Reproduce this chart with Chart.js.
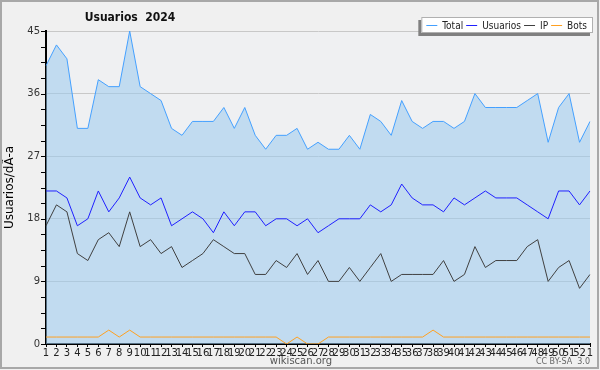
<!DOCTYPE html>
<html>
<head>
<meta charset="utf-8">
<script src="https://cdn.jsdelivr.net/npm/chart.js@4.4.1/dist/chart.umd.min.js"></script>
<style>
  body { margin: 0; background: #ffffff; }
  canvas { display: block; }
</style>
</head>
<body>
<canvas id="myChart" width="600" height="370"></canvas>
<script>
// weeks of 2024, last point is week 1 of next year
const weeks = ['1','2','3','4','5','6','7','8','9','10','11','12','13','14','15','16','17','18','19','20',
  '21','22','23','24','25','26','27','28','29','30','31','32','33','34','35','36','37','38','39','40',
  '41','42','43','44','45','46','47','48','49','50','51','52','1']

const total = [40,43,41,31,31,38,37,37,45,37, 36,35,31,30,32,32,32,34,31,34,
  30,28,30,30,31,28,29,28,28,30, 28,33,32,30,35,32,31,32,32,31,
  32,36,34,34,34,34,35,36,29,34, 36,29,32]
const usuarios = [22,22,21,17,18,22,19,21,24,21, 20,21,17,18,19,18,16,19,17,19,
  19,17,18,18,17,18,16,17,18,18, 18,20,19,20,23,21,20,20,19,21,
  20,21,22,21,21,21,20,19,18,22, 22,20,22]
const ip = [17,20,19,13,12,15,16,14,19,14, 15,13,14,11,12,13,15,14,13,13,
  10,10,12,11,13,10,12,9,9,11, 9,11,13,9,10,10,10,10,12,9,
  10,14,11,12,12,12,14,15,9,11, 12,8,10]
const bots = [1,1,1,1,1,1,2,1,2,1, 1,1,1,1,1,1,1,1,1,1,
  1,1,1,0,1,0,0,1,1,1, 1,1,1,1,1,1,1,2,1,1,
  1,1,1,1,1,1,1,1,1,1, 1,1,1]

// labelled y ticks, the others are only small marks
const yTickLabels = [0, 9, 18, 27, 36, 45]

const chartTitle = 'Usuarios  2024'
const yTitle = 'Usuarios/dÃ-a'
const seriesNames = ['Total', 'Usuarios', 'IP', 'Bots']
const seriesColors = ['#44a0ff', '#2020ff', '#404040', '#ffa020']

const FONT = "'DejaVu Sans', sans-serif"
const FONT_C = "'DejaVu Sans Condensed', 'DejaVu Sans', sans-serif"

// background, frame, title, legend box, tick marks and footer
const decor = {
  id: 'decor',
  beforeDraw(chart) {
    const c = chart.ctx
    const a = chart.chartArea
    c.save()
    c.fillStyle = '#f0f0f0'
    c.fillRect(0, 0, chart.width, chart.height)
    c.fillStyle = '#eff0f2'
    c.fillRect(a.left, a.top, a.right - a.left, a.bottom - a.top)
    c.restore()
  },
  afterDraw(chart) {
    const c = chart.ctx
    c.save()
    // y tick marks, every 2.25
    const ys = chart.scales.y
    c.strokeStyle = '#000'
    c.lineWidth = 1
    c.beginPath()
    ys.ticks.forEach(t => {
      const py = Math.round(ys.getPixelForValue(t.value)) + 0.5
      c.moveTo(ys.right - 5, py)
      c.lineTo(ys.right, py)
    })
    c.stroke()

    // frame
    c.strokeStyle = '#a8a8a8'
    c.lineWidth = 2
    c.strokeRect(1, 1, 597, 367)

    // title
    c.fillStyle = '#111'
    c.font = 'bold 12px ' + FONT_C
    c.textAlign = 'center'
    c.textBaseline = 'alphabetic'
    c.fillText(chartTitle, 130, 21)

    // legend
    c.font = '10px ' + FONT_C
    const lineLen = 11, gap1 = 5, gap2 = 3
    let w = 6
    seriesNames.forEach(n => { w += lineLen + gap1 + c.measureText(n).width + gap2 })
    w += 2
    const right = 593, top = 17, h = 16
    const left = right - w
    c.fillStyle = '#808080'
    c.fillRect(left - 3, top + 3, w, h)
    c.fillStyle = '#ffffff'
    c.fillRect(left, top, w, h)
    c.strokeStyle = '#b0b0b0'
    c.lineWidth = 1
    c.strokeRect(left + 0.5, top + 0.5, w - 1, h - 1)
    let x = left + 5
    const cy = top + h / 2
    c.textAlign = 'left'
    c.textBaseline = 'middle'
    seriesNames.forEach((n, i) => {
      c.strokeStyle = seriesColors[i]
      c.beginPath()
      c.moveTo(x, cy + 0.5)
      c.lineTo(x + lineLen, cy + 0.5)
      c.stroke()
      x += lineLen + gap1
      c.fillStyle = '#222'
      c.fillText(n, x, cy + 1)
      x += c.measureText(n).width + gap2
    })

    // footer
    c.textAlign = 'center'
    c.textBaseline = 'alphabetic'
    c.fillStyle = '#555'
    c.font = '10px ' + FONT
    c.fillText('wikiscan.org', 301, 364)
    c.textAlign = 'right'
    c.font = '8px ' + FONT
    c.fillStyle = '#666'
    c.fillText('CC BY-SA  3.0', 590, 364)
    c.restore()
  }
}

function lineSet(label, data, color, extra) {
  return Object.assign({
    label: label,
    data: data,
    borderColor: color,
    borderWidth: 1,
    pointRadius: 0,
    tension: 0,
    fill: false
  }, extra || {})
}

const ctx = document.getElementById('myChart').getContext('2d')
const chart = new Chart(ctx, {
  type: 'line',
  data: {
    labels: weeks,
    datasets: [
      lineSet(seriesNames[0], total, seriesColors[0], { fill: 'origin', backgroundColor: 'rgba(155,202,238,0.55)' }),
      lineSet(seriesNames[1], usuarios, seriesColors[1]),
      lineSet(seriesNames[2], ip, seriesColors[2]),
      lineSet(seriesNames[3], bots, seriesColors[3])
    ]
  },
  options: {
    responsive: false,
    animation: false,
    layout: { padding: { left: 0, right: 10, top: 31, bottom: 10 } },
    plugins: {
      legend: { display: false },
      title: { display: false },
      tooltip: { enabled: false },
      filler: { drawTime: 'beforeDatasetsDraw' }
    },
    scales: {
      x: {
        offset: false,
        afterFit(scale) { scale.height = 16 },
        grid: { display: true, drawOnChartArea: false, tickLength: 3, tickColor: '#000' },
        border: { color: '#000', width: 2 },
        ticks: {
          autoSkip: false, maxRotation: 0, minRotation: 0, padding: 0,
          color: '#222', font: { family: FONT, size: 10 }
        }
      },
      y: {
        min: 0,
        max: 45,
        afterFit(scale) { scale.width = 46 },
        grid: {
          color: (c) => (c.tick && yTickLabels.includes(c.tick.value)) ? '#c8c8c8' : 'rgba(0,0,0,0)',
          drawTicks: false
        },
        border: { color: '#000', width: 2 },
        title: {
          display: true, text: yTitle, color: '#000',
          font: { family: FONT, size: 12 }, padding: { top: 3, bottom: 0 }
        },
        ticks: {
          stepSize: 2.25,
          maxTicksLimit: 30,
          autoSkip: false,
          padding: 6,
          color: '#333',
          font: { family: FONT, size: 10 },
          callback: (v) => yTickLabels.includes(v) ? String(v) : ''
        }
      }
    }
  },
  plugins: [decor]
})
</script>
</body>
</html>
